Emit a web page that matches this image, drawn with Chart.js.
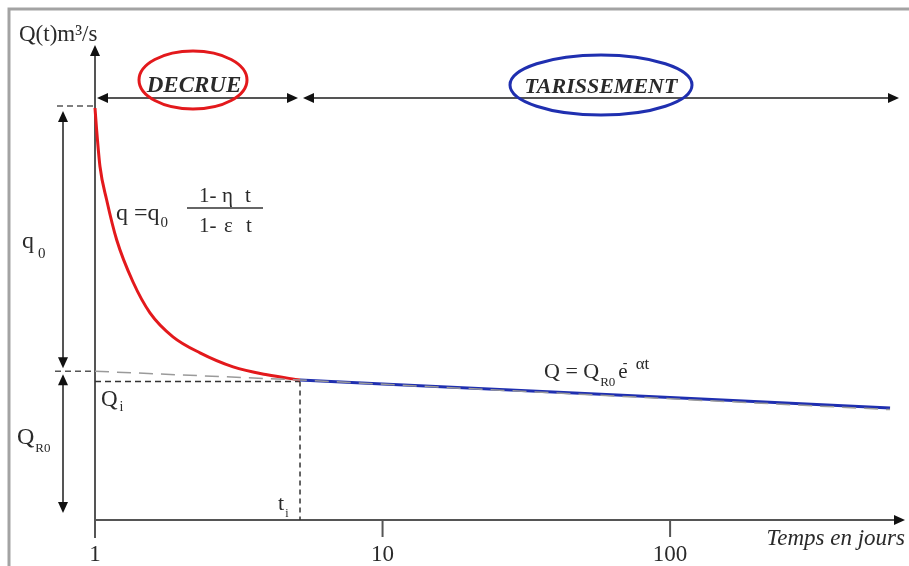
<!DOCTYPE html>
<html>
<head>
<meta charset="utf-8">
<script src="https://cdn.jsdelivr.net/npm/chart.js@4/dist/chart.umd.min.js"></script>
<style>
  html, body { margin: 0; padding: 0; background: #fff; }
  canvas { display: block; }
</style>
</head>
<body>
<canvas id="hydro" width="909" height="566"></canvas>
<script>
// x in days (log axis), y in m3/s (arbitrary units)
const xTicks = [1, 10, 100];
const decrueT = [1, 1.012, 1.041, 1.098, 1.19, 1.356, 1.553, 1.867, 2.318, 3.022, 3.966, 5.164];
const decrueQ = [10.3, 9.8, 8.83, 8.0, 7.0, 5.95, 5.18, 4.58, 4.18, 3.83, 3.63, 3.5];
const tarT = [5.164, 10, 100, 582];
const tarQ = [3.5, 3.4, 3.06, 2.8];
const extrapT = [1, 5.164, 100, 582];
const extrapQ = [3.72, 3.5, 3.03, 2.76];
const q0Top = 10.35;
const qR0 = 3.72;
const qi = 3.46;
const ti = 5.164;
const tMax = 656;
const qMax = 11.875;

const SERIF = '"Liberation Serif", "DejaVu Serif", serif';
const INK = '#2a2a2a';

function pts(xs, ys) {
    return xs.map((x, i) => ({ x: x, y: ys[i] }));
}

function head(ctx, x, y, dir) {
    // filled triangle, tip at (x,y)
    const L = 11, W = 5;
    ctx.beginPath();
    ctx.moveTo(x, y);
    if (dir === 'r') { ctx.lineTo(x - L, y - W); ctx.lineTo(x - L, y + W); }
    if (dir === 'l') { ctx.lineTo(x + L, y - W); ctx.lineTo(x + L, y + W); }
    if (dir === 'u') { ctx.lineTo(x - W, y + L); ctx.lineTo(x + W, y + L); }
    if (dir === 'd') { ctx.lineTo(x - W, y - L); ctx.lineTo(x + W, y - L); }
    ctx.closePath();
    ctx.fillStyle = '#111';
    ctx.fill();
}

function line(ctx, x1, y1, x2, y2, color, width, dash) {
    ctx.save();
    ctx.strokeStyle = color;
    ctx.lineWidth = width;
    ctx.setLineDash(dash || []);
    ctx.beginPath();
    ctx.moveTo(x1, y1);
    ctx.lineTo(x2, y2);
    ctx.stroke();
    ctx.restore();
}

// draws text, returns x where it ends (for left aligned text)
function text(ctx, str, x, y, size, style, align) {
    ctx.save();
    ctx.font = (style || '') + ' ' + size + 'px ' + SERIF;
    ctx.fillStyle = INK;
    ctx.textAlign = align || 'left';
    ctx.textBaseline = 'alphabetic';
    ctx.fillText(str, x, y);
    const w = ctx.measureText(str).width;
    ctx.restore();
    return x + w;
}

const schemePlugin = {
    id: 'scheme',
    beforeDatasetsDraw(chart) {
        const ctx = chart.ctx;
        const xs = chart.scales.x, ys = chart.scales.y;
        const x0 = xs.getPixelForValue(1);
        const y0 = ys.getPixelForValue(0);

        // picture frame
        ctx.save();
        ctx.strokeStyle = '#a3a3a3';
        ctx.lineWidth = 3;
        ctx.beginPath();
        ctx.moveTo(9, 566);
        ctx.lineTo(9, 9);
        ctx.lineTo(909, 9);
        ctx.stroke();
        ctx.restore();

        // axes
        line(ctx, x0, y0 + 18, x0, 54, '#555', 2);
        head(ctx, x0, 45, 'u');
        line(ctx, x0, y0, chart.width - 12, y0, '#555', 2);
        head(ctx, chart.width - 4, y0, 'r');
        xTicks.forEach(t => {
            const px = xs.getPixelForValue(t);
            if (t !== 1) line(ctx, px, y0, px, y0 + 17, '#555', 2);
            text(ctx, String(t), px, y0 + 41, 23, '', 'center');
        });
        text(ctx, 'Temps en jours', chart.width - 4, y0 + 25, 23, 'italic', 'right');
        text(ctx, 'Q(t)m\u00B3/s', 19, 41, 23, '', 'left');

        // guide dashes
        const yq0 = ys.getPixelForValue(q0Top);
        const yR0 = ys.getPixelForValue(qR0);
        const yqi = ys.getPixelForValue(qi);
        const xti = xs.getPixelForValue(ti);
        line(ctx, x0 - 38, yq0, x0, yq0, '#555', 1.5, [6, 4]);
        line(ctx, x0 - 40, yR0, x0, yR0, '#555', 1.5, [6, 4]);
        line(ctx, x0, yqi, xti, yqi, '#333', 1.5, [6, 4]);
        line(ctx, xti, yqi, xti, y0, '#333', 1.5, [5, 4]);
    },
    afterDatasetsDraw(chart) {
        const ctx = chart.ctx;
        const xs = chart.scales.x, ys = chart.scales.y;
        const x0 = xs.getPixelForValue(1);
        const y0 = ys.getPixelForValue(0);
        const xti = xs.getPixelForValue(ti);
        const xEnd = chart.width - 12;
        const yq0 = ys.getPixelForValue(q0Top);
        const yR0 = ys.getPixelForValue(qR0);
        const yqi = ys.getPixelForValue(qi);

        // phase arrows on top
        const ya = 98;
        line(ctx, x0 + 8, ya, xti - 8, ya, '#555', 2);
        head(ctx, x0 + 2, ya, 'l');
        head(ctx, xti - 2, ya, 'r');
        line(ctx, xti + 8, ya, xEnd - 6, ya, '#555', 2);
        head(ctx, xti + 3, ya, 'l');
        head(ctx, xEnd + 2, ya, 'r');

        // vertical q0 / QR0 arrows
        const xv = x0 - 32;
        line(ctx, xv, yq0 + 12, xv, yR0 - 12, '#555', 2);
        head(ctx, xv, yq0 + 5, 'u');
        head(ctx, xv, yR0 - 3, 'd');
        line(ctx, xv, yR0 + 12, xv, y0 - 14, '#555', 2);
        head(ctx, xv, yR0 + 3, 'u');
        head(ctx, xv, y0 - 7, 'd');

        // phase names with ellipses
        text(ctx, 'DECRUE', 194, 92, 23, 'bold italic', 'center');
        text(ctx, 'TARISSEMENT', 601, 93, 22, 'bold italic', 'center');
        ctx.save();
        ctx.lineWidth = 3;
        ctx.strokeStyle = '#e3191c';
        ctx.beginPath();
        ctx.ellipse(193, 80, 54, 29, 0, 0, Math.PI * 2);
        ctx.stroke();
        ctx.strokeStyle = '#1f2fb0';
        ctx.beginPath();
        ctx.ellipse(601, 85, 91, 30, 0, 0, Math.PI * 2);
        ctx.stroke();
        ctx.restore();

        // side labels
        let e = text(ctx, 'q', 22, 248, 24);
        text(ctx, '0', e + 4, 258, 15);
        e = text(ctx, 'Q', 17, 444, 24);
        text(ctx, 'R0', e + 1, 452, 13);
        e = text(ctx, 'Q', 101, yqi + 24, 23);
        text(ctx, 'i', e + 2, yqi + 29, 14);
        e = text(ctx, 't', xti - 22, y0 - 10, 22);
        text(ctx, 'i', e + 1, y0 - 3, 12);

        // decrue formula
        e = text(ctx, 'q =q', 116, 220, 24);
        text(ctx, '0', e + 1, 227, 15);
        text(ctx, '1-', 199, 202, 21);
        text(ctx, '\u03B7', 222, 202, 21);
        text(ctx, 't', 245, 202, 21);
        line(ctx, 187, 208, 263, 208, '#333', 1.5);
        text(ctx, '1-', 199, 232, 21);
        text(ctx, '\u03B5', 224, 232, 21);
        text(ctx, 't', 246, 232, 21);

        // tarissement formula
        e = text(ctx, 'Q = Q', 544, 378, 22);
        e = text(ctx, 'R0', e + 1, 386, 13);
        e = text(ctx, 'e', e + 3, 378, 21);
        text(ctx, '-', e - 5, 367, 14);
        text(ctx, '\u03B1t', e + 8, 369, 17);
    }
};

new Chart(document.getElementById('hydro'), {
    type: 'line',
    data: {
        datasets: [
            {
                label: 'extrapolation',
                data: pts(extrapT, extrapQ),
                borderColor: '#9a9a9a',
                borderWidth: 1.5,
                borderDash: [14, 8],
                pointRadius: 0,
                clip: false
            },
            {
                label: 'tarissement',
                data: pts(tarT, tarQ),
                borderColor: '#1f2fb0',
                borderWidth: 3,
                pointRadius: 0,
                clip: false
            },
            {
                label: 'decrue',
                data: pts(decrueT, decrueQ),
                borderColor: '#e3191c',
                borderWidth: 3,
                pointRadius: 0,
                cubicInterpolationMode: 'monotone',
                clip: false
            }
        ]
    },
    options: {
        responsive: false,
        animation: false,
        layout: { padding: { left: 95, right: 4, top: 45, bottom: 46 } },
        plugins: { legend: { display: false }, tooltip: { enabled: false } },
        scales: {
            x: { type: 'logarithmic', min: 1, max: tMax, display: false },
            y: { type: 'linear', min: 0, max: qMax, display: false }
        }
    },
    plugins: [schemePlugin]
});
</script>
</body>
</html>
